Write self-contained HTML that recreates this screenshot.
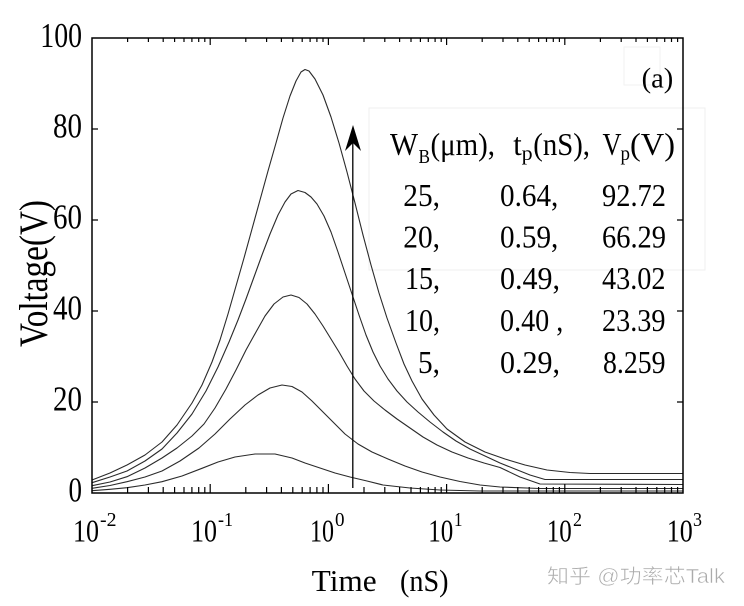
<!DOCTYPE html>
<html><head><meta charset="utf-8"><style>
html,body{margin:0;padding:0;background:#fff;}
svg{display:block;}
text{font-family:"Liberation Serif","Noto Serif CJK SC",serif;fill:#000;}
</style></head><body>
<svg width="744" height="606" viewBox="0 0 744 606" xmlns="http://www.w3.org/2000/svg">
<rect width="744" height="606" fill="#fff"/>
<!-- faint boxes -->
<rect x="369" y="108" width="336" height="162" fill="none" stroke="#efefef" stroke-width="1"/>
<rect x="624" y="47" width="36" height="38" fill="none" stroke="#f2f2f2" stroke-width="1"/>
<!-- curves -->
<g fill="none" stroke="#2a2a2a" stroke-width="1.1" stroke-linejoin="round">
<polyline points="92,480 110,473 127,465 145,455 162,442 177,425 192,403 202,385 212,362 220,340 228,314 236,286 244,258 252,229 260,200 268,171 276,143 283,118 290,96 296,81 301,72 305,69.5 309,71 315,79 323,95 331,117 339,143 347,172 355,203 363,235 371,265 379,293 387,318 396,343 404,364 412,381 422,399 434,415 447,429 465,442 485,452 505,459 525,465 547,470 570,472.5 590,473.5 683,473.5"/>
<polyline points="92,482.7 110,477 127,471 145,461 162,449 177,433 192,414 206,391 218,367 229,342 238,320 246,299 254,277 262,255 270,234 278,215 285,202 291,194 298,190.5 305,192.5 311,197 317,204 324,216 331,232 338,252 345,273 352,294 359,315 366,335 373,352 380,366 388,379 397,391 407,402 418,412 430,422 443,432 456,441 470,449 485,456 500,463 515,469 530,475 545,479.5 683,479.5"/>
<polyline points="92,485.7 110,482 127,476.7 145,468 162,458 177,448 192,436 204,424 215,408 226,389 236,370 246,350 256,332 265,316 274,304 283,297 291,295 299,297.5 307,304 315,314 323,326 331,339 339,352 347,366 355,379 364,391 374,401 385,410 397,419 410,428 423,437 437,445 452,452 468,458 484,463 500,467.5 520,477 540,484 683,484.5"/>
<polyline points="92,488.3 110,485.5 127,481.7 145,477 162,471 180,461 199,448 215,434 230,419 245,405 258,395 270,388 282,385 292,386.5 302,392 312,401 322,411 333,422 345,434 358,444 372,452 388,459 405,466 422,472 440,477 460,481.5 480,485 500,487 540,488.5 683,488.5"/>
<polyline points="92,490.7 110,489.3 127,487.7 145,485 162,481.7 182,476 202,468.3 218,462 235,457 255,454 275,454 292,458 305,463 320,468 335,473 350,477 367,481 383,485 410,488 440,490 480,491 683,491"/>
</g>
<!-- arrow -->
<line x1="352.8" y1="488" x2="352.8" y2="140" stroke="#000" stroke-width="1.3"/>
<path d="M353,125 L345,151 L353,143 L361,151 Z" fill="#000"/>
<!-- frame -->
<rect x="92" y="38" width="591" height="455" fill="none" stroke="#000" stroke-width="1.5"/>
<!-- ticks -->
<g stroke="#000" stroke-width="1.2" fill="none">
<path d="M210.2 493V484M328.4 493V484M446.6 493V484M564.8 493V484
M127.6 493V487M148.4 493V487M163.2 493V487M174.6 493V487M184 493V487M191.9 493V487M198.7 493V487M204.8 493V487
M245.8 493V487M266.6 493V487M281.4 493V487M292.8 493V487M302.2 493V487M310.1 493V487M316.9 493V487M323 493V487
M364 493V487M384.8 493V487M399.6 493V487M411 493V487M420.4 493V487M428.3 493V487M435.1 493V487M441.2 493V487
M482.2 493V487M503 493V487M517.8 493V487M529.2 493V487M538.6 493V487M546.5 493V487M553.3 493V487M559.4 493V487
M600.4 493V487M621.2 493V487M636 493V487M647.4 493V487M656.8 493V487M664.7 493V487M671.5 493V487M677.6 493V487"/>
<path d="M210.2 38V45M328.4 38V45M446.6 38V45M564.8 38V45
M127.6 38V42M148.4 38V42M163.2 38V42M174.6 38V42M184 38V42M191.9 38V42M198.7 38V42M204.8 38V42
M245.8 38V42M266.6 38V42M281.4 38V42M292.8 38V42M302.2 38V42M310.1 38V42M316.9 38V42M323 38V42
M364 38V42M384.8 38V42M399.6 38V42M411 38V42M420.4 38V42M428.3 38V42M435.1 38V42M441.2 38V42
M482.2 38V42M503 38V42M517.8 38V42M529.2 38V42M538.6 38V42M546.5 38V42M553.3 38V42M559.4 38V42
M600.4 38V42M621.2 38V42M636 38V42M647.4 38V42M656.8 38V42M664.7 38V42M671.5 38V42M677.6 38V42"/>
<path d="M92 402H98M92 311H98M92 220H98M92 129H98M683 402H677M683 311H677M683 220H677M683 129H677"/>
</g>
<!-- y tick labels -->
<g font-size="35" text-anchor="end">
<text x="82" y="47" textLength="41.7" lengthAdjust="spacingAndGlyphs">100</text>
<text x="82" y="137.5" textLength="29" lengthAdjust="spacingAndGlyphs">80</text>
<text x="82" y="228.5" textLength="29" lengthAdjust="spacingAndGlyphs">60</text>
<text x="82" y="319.5" textLength="29" lengthAdjust="spacingAndGlyphs">40</text>
<text x="82" y="410.5" textLength="29" lengthAdjust="spacingAndGlyphs">20</text>
<text x="82" y="501.5" textLength="13.5" lengthAdjust="spacingAndGlyphs">0</text>
</g>
<!-- x tick labels -->
<g font-size="32">
<text x="73" y="541.5" textLength="26" lengthAdjust="spacingAndGlyphs">10</text>
<text x="191" y="541.5" textLength="26" lengthAdjust="spacingAndGlyphs">10</text>
<text x="310" y="541.5" textLength="24" lengthAdjust="spacingAndGlyphs">10</text>
<text x="428.3" y="541.5" textLength="25" lengthAdjust="spacingAndGlyphs">10</text>
<text x="546.7" y="541.5" textLength="25" lengthAdjust="spacingAndGlyphs">10</text>
<text x="666.7" y="541.5" textLength="26" lengthAdjust="spacingAndGlyphs">10</text>
</g>
<g font-size="20">
<text x="100" y="526" textLength="16.5" lengthAdjust="spacingAndGlyphs">-2</text>
<text x="218" y="526" textLength="15" lengthAdjust="spacingAndGlyphs">-1</text>
<text x="335" y="526" textLength="9.5" lengthAdjust="spacingAndGlyphs">0</text>
<text x="454" y="526" textLength="8.5" lengthAdjust="spacingAndGlyphs">1</text>
<text x="573" y="526" textLength="9" lengthAdjust="spacingAndGlyphs">2</text>
<text x="693" y="526" textLength="9" lengthAdjust="spacingAndGlyphs">3</text>
</g>
<!-- axis titles -->
<text x="311.7" y="591" font-size="31" textLength="65" lengthAdjust="spacingAndGlyphs">Time</text>
<text x="400" y="591" font-size="31" textLength="48.5" lengthAdjust="spacingAndGlyphs">(nS)</text>
<text transform="translate(47,347) rotate(-90)" x="0" y="0" font-size="40" textLength="147" lengthAdjust="spacingAndGlyphs">Voltage(V)</text>
<!-- (a) -->
<text x="641.7" y="87.5" font-size="28" textLength="31.6" lengthAdjust="spacingAndGlyphs">(a)</text>
<!-- legend header -->
<g font-size="32">
<text x="390" y="155" textLength="28" lengthAdjust="spacingAndGlyphs">W</text>
<text x="430.5" y="155" textLength="64.5" lengthAdjust="spacingAndGlyphs">(μm),</text>
<text x="513.3" y="155" textLength="8.5" lengthAdjust="spacingAndGlyphs">t</text>
<text x="533.3" y="155" textLength="56.7" lengthAdjust="spacingAndGlyphs">(nS),</text>
<text x="602.5" y="155" textLength="19" lengthAdjust="spacingAndGlyphs">V</text>
<text x="630" y="155" textLength="45" lengthAdjust="spacingAndGlyphs">(V)</text>
</g>
<g font-size="20">
<text x="418.5" y="163" textLength="11.5" lengthAdjust="spacingAndGlyphs">B</text>
<text x="521.7" y="160" textLength="11" lengthAdjust="spacingAndGlyphs">p</text>
<text x="620.5" y="160" textLength="9.5" lengthAdjust="spacingAndGlyphs">p</text>
</g>
<!-- legend rows -->
<g font-size="32">
<text x="403.3" y="206" textLength="36.7" lengthAdjust="spacingAndGlyphs">25,</text>
<text x="500" y="206" textLength="58.3" lengthAdjust="spacingAndGlyphs">0.64,</text>
<text x="602" y="206" textLength="64" lengthAdjust="spacingAndGlyphs">92.72</text>

<text x="403.3" y="247.5" textLength="36.7" lengthAdjust="spacingAndGlyphs">20,</text>
<text x="500" y="247.5" textLength="58.3" lengthAdjust="spacingAndGlyphs">0.59,</text>
<text x="602" y="247.5" textLength="64" lengthAdjust="spacingAndGlyphs">66.29</text>

<text x="405" y="289" textLength="35" lengthAdjust="spacingAndGlyphs">15,</text>
<text x="500" y="289" textLength="60" lengthAdjust="spacingAndGlyphs">0.49,</text>
<text x="602" y="289" textLength="63.5" lengthAdjust="spacingAndGlyphs">43.02</text>

<text x="405" y="331" textLength="35" lengthAdjust="spacingAndGlyphs">10,</text>
<text x="500" y="331" textLength="63.3" lengthAdjust="spacingAndGlyphs">0.40 ,</text>
<text x="602" y="331" textLength="63.5" lengthAdjust="spacingAndGlyphs">23.39</text>

<text x="418" y="373" textLength="22" lengthAdjust="spacingAndGlyphs">5,</text>
<text x="500" y="373" textLength="60" lengthAdjust="spacingAndGlyphs">0.29,</text>
<text x="603" y="373" textLength="62.5" lengthAdjust="spacingAndGlyphs">8.259</text>
</g>
<!-- watermark -->
<text x="547" y="583" font-size="20" style="font-family:'Liberation Sans','Noto Sans CJK SC',sans-serif;fill:#ababab" stroke="#fff" stroke-width="0.5" textLength="178" lengthAdjust="spacingAndGlyphs">知乎 @功率芯Talk</text>
</svg>
</body></html>
